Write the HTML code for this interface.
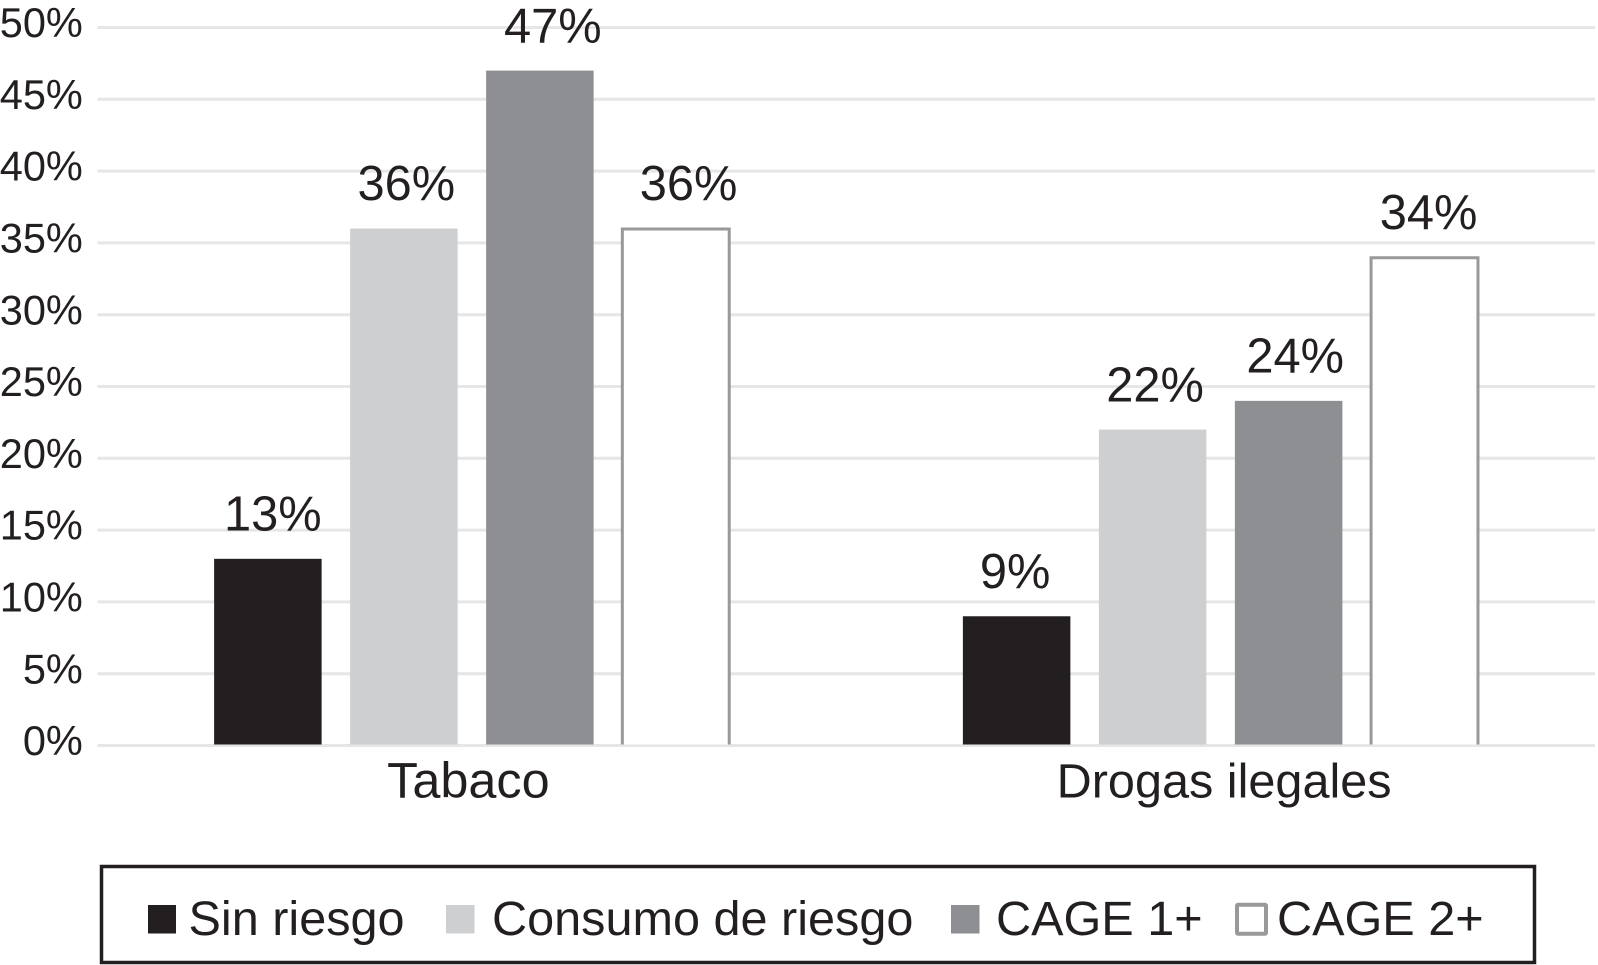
<!DOCTYPE html>
<html lang="es">
<head>
<meta charset="utf-8">
<title>Tabaco y drogas ilegales</title>
<style>
html,body{margin:0;padding:0;background:#fff;width:1598px;height:965px;overflow:hidden}
svg{display:block;font-family:"Liberation Sans",Arial,sans-serif;fill:#231f20}
</style>
</head>
<body>
<svg id="chart" width="1598" height="965" viewBox="0 0 1598 965" xmlns="http://www.w3.org/2000/svg">
  <g id="grid"></g>
  <g id="yticks"></g>
  <g id="bars"></g>
  <g id="values"></g>
  <g id="cats"></g>
  <g>
    <rect x="101.5" y="866.5" width="1433" height="96" fill="#fff" stroke="#231f20" stroke-width="3.5"/>
    <g>
      <rect x="148" y="905" width="28" height="28.5" fill="#231f20"/>
      <text x="188.5" y="935" font-size="48.6">Sin riesgo</text>
    </g>
    <g>
      <rect x="446" y="905" width="28.5" height="28.5" fill="#cdcfd1"/>
      <text x="492" y="935" font-size="48.6">Consumo de riesgo</text>
    </g>
    <g>
      <rect x="951" y="905" width="28.5" height="28.5" fill="#8e8f92"/>
      <text x="996" y="935" font-size="48.6">CAGE 1+</text>
    </g>
    <g>
      <rect x="1237" y="904.7" width="29" height="29" rx="1" fill="#fff" stroke="#98999b" stroke-width="4"/>
      <text x="1277" y="935" font-size="48.6">CAGE 2+</text>
    </g>
  </g>
</svg>
<script>
var categories = ["Tabaco", "Drogas ilegales"];
var seriesNames = ["Sin riesgo", "Consumo de riesgo", "CAGE 1+", "CAGE 2+"];
var sinRiesgo = [13, 9];
var consumoDeRiesgo = [36, 22];
var cage1 = [47, 24];
var cage2 = [36, 34];
var yTicks = [0, 5, 10, 15, 20, 25, 30, 35, 40, 45, 50];

var seriesValues = [sinRiesgo, consumoDeRiesgo, cage1, cage2];
var seriesFill = ["#231f20", "#cdcfd1", "#8e8f92", "#fff"];
var NS = "http://www.w3.org/2000/svg";

var plotLeft = 97.5, plotRight = 1595, zeroY = 745.5, fiftyY = 27.5;
var bandWidth = (plotRight - plotLeft) / categories.length;
var barWidth = 107.5, barStep = 136;

function yScale(v) {
  return zeroY - (v / 50) * (zeroY - fiftyY);
}
function barX(c, s) {
  var center = plotLeft + bandWidth * (c + 0.5);
  return center - (barStep * 3 + barWidth) / 2 + s * barStep;
}
function labelNudge(c, s) {
  var nudges = [[3, 0.5, 11, 10.7], [-3.5, 0.5, 4.6, 2]];
  return nudges[c][s];
}
function make(tag, attrs, parent, txt) {
  var el = document.createElementNS(NS, tag);
  for (var k in attrs) el.setAttribute(k, attrs[k]);
  if (txt !== undefined) el.textContent = txt;
  parent.appendChild(el);
  return el;
}

var gGrid = document.getElementById("grid");
var gTicks = document.getElementById("yticks");
yTicks.forEach(function (t) {
  var line = make("line", {x1: plotLeft, x2: plotRight, y1: yScale(t), y2: yScale(t), stroke: "#e6e6e6", "stroke-width": 3}, gGrid);
  
  
  var label = make("text", {x: 82.8, y: yScale(t) + 9.6, "font-size": 41.5, "text-anchor": "end"}, gTicks, t + "%");
  
  
});

var gBars = document.getElementById("bars");
var gValues = document.getElementById("values");
seriesValues.forEach(function (vals, s) {
  vals.forEach(function (v, c) {
    var x = barX(c, s), top = yScale(v), bottom = zeroY - 1;
    var bar = make("rect", {x: x, y: top, width: barWidth, height: bottom - top, fill: seriesFill[s]}, gBars);
    
    
    if (s === 3) {
      var ox = x + 0.2, ow = barWidth - 0.6, oy = top + 0.5;
      var outline = make("path", {d: "M" + ox + " " + bottom + "V" + oy + "H" + (ox + ow) + "V" + bottom, fill: "none", stroke: "#98999b", "stroke-width": 3}, gBars);
      
      
    }
    var label = make("text", {x: x + barWidth / 2 + 2 + labelNudge(c, s), y: top - 28.3, "font-size": 48.8, "text-anchor": "middle"}, gValues, v + "%");
    
    
  });
});

var gCats = document.getElementById("cats");
categories.forEach(function (name, c) {
  var center = barX(c, 0) + (barStep * 3 + barWidth) / 2;
  var size = c === 0 ? 50.4 : 48.6;
  var shift = c === 0 ? -3.5 : 3.5;
  var label = make("text", {x: center + shift, y: 797.5, "font-size": size, "text-anchor": "middle"}, gCats, name);
  
  
});
</script>
</body>
</html>
